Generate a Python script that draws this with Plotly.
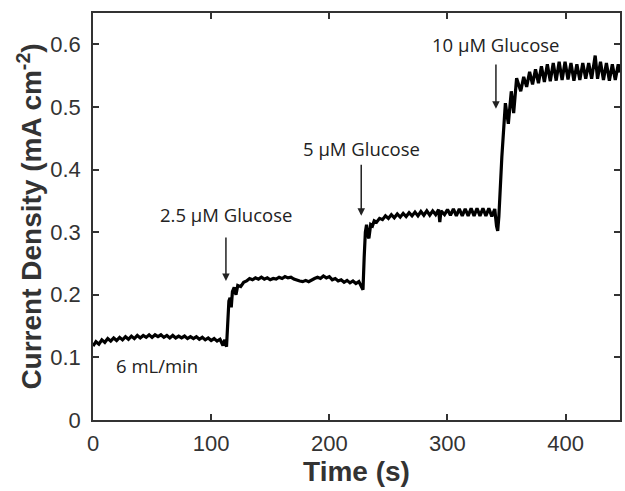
import plotly.graph_objects as go

# Time (s) and current density (mA cm^-2)
time_s = [
    0, 2.5, 5, 7.5, 10, 12.5, 15, 17.5, 20, 22.5, 25, 27.5, 30, 32.5, 35, 37.5,
    40, 42.5, 45, 47.5, 50, 52.5, 55, 57.5, 60, 62.5, 65, 67.5, 70, 72.5, 75, 77.5,
    80, 82.5, 85, 87.5, 90, 92.5, 95, 97.5, 100, 102.5, 105, 107.5, 110, 111.5, 113,
    114, 115, 116, 117, 118, 119.5, 121, 122.5, 125, 127.5, 130, 132.5, 135, 137.5,
    140, 142.5, 145, 147.5, 150, 152.5, 155, 157.5, 160, 162.5, 165, 167.5, 170,
    172.5, 175, 177.5, 180, 182.5, 185, 187.5, 190, 192.5, 195, 197.5, 200, 202.5,
    205, 207.5, 210, 212.5, 215, 217.5, 220, 222.5, 225, 227, 228.5,
    229.5, 230.5, 231.5, 232.5, 233.5, 235, 236.5, 238, 240, 242.5, 245, 247.5, 250,
    252.5, 255, 257.5, 260, 262.5, 265, 267.5, 270, 272.5, 275, 277.5, 280, 282.5,
    285, 287.5, 290, 292.5, 293.5, 294.5, 297.5, 300, 302.5, 305, 307.5, 310, 312.5,
    315, 317.5, 320, 322.5, 325, 327.5, 330, 332.5, 335, 337.5, 340, 341.5, 342.5,
    343.5, 346, 349, 351.5, 354, 356, 358.5, 362, 364.5, 367, 369.5, 372, 374.5, 377,
    379.5, 382, 384.5, 387, 389.5, 392, 394.5, 397, 399.5, 402, 404.5, 407, 409.5,
    412, 414.5, 417, 419.5, 422, 425, 427, 429.5, 432, 434.5, 437, 439.5, 442, 444.5, 446,
]
current = [
    0.118, 0.125, 0.121, 0.128, 0.124, 0.130, 0.126, 0.131, 0.127, 0.132, 0.128, 0.133,
    0.129, 0.134, 0.130, 0.135, 0.131, 0.135, 0.132, 0.136, 0.132, 0.136, 0.133, 0.136,
    0.132, 0.135, 0.131, 0.135, 0.131, 0.134, 0.131, 0.134, 0.130, 0.133, 0.130, 0.133,
    0.129, 0.132, 0.128, 0.131, 0.127, 0.130, 0.126, 0.129, 0.119, 0.128, 0.117,
    0.150, 0.190, 0.195, 0.180, 0.205, 0.212, 0.200, 0.215, 0.213, 0.220, 0.222, 0.226,
    0.224, 0.227, 0.225, 0.228, 0.225, 0.227, 0.224, 0.226, 0.225, 0.228, 0.226, 0.229,
    0.227, 0.228, 0.225, 0.223, 0.222, 0.221, 0.223, 0.221, 0.224, 0.226, 0.228, 0.226,
    0.230, 0.227, 0.229, 0.224, 0.226, 0.222, 0.224, 0.220, 0.223, 0.219, 0.222, 0.218,
    0.221, 0.212, 0.208,
    0.260, 0.300, 0.312, 0.295, 0.290, 0.312, 0.310, 0.318, 0.316, 0.322, 0.320, 0.326,
    0.322, 0.328, 0.323, 0.329, 0.324, 0.330, 0.325, 0.331, 0.326, 0.332, 0.326, 0.333,
    0.327, 0.334, 0.327, 0.334, 0.328, 0.336, 0.316, 0.334, 0.328, 0.336, 0.327, 0.337,
    0.326, 0.337, 0.326, 0.337, 0.326, 0.338, 0.326, 0.338, 0.326, 0.338, 0.326, 0.338,
    0.325, 0.337, 0.310, 0.302,
    0.325, 0.420, 0.506, 0.473, 0.525, 0.490, 0.546, 0.525, 0.548, 0.532, 0.556, 0.536,
    0.560, 0.538, 0.565, 0.540, 0.568, 0.541, 0.570, 0.542, 0.572, 0.543, 0.572, 0.544,
    0.570, 0.542, 0.568, 0.543, 0.570, 0.545, 0.570, 0.545, 0.582, 0.545, 0.572, 0.543,
    0.570, 0.542, 0.568, 0.543, 0.568, 0.555,
]

x_ticks = [0, 100, 200, 300, 400]
y_ticks = [0, 0.1, 0.2, 0.3, 0.4, 0.5, 0.6]

labels = ["2.5 μM Glucose", "5 μM Glucose", "10 μM Glucose"]
label_t = [112.5, 227, 341]
label_y = [0.329, 0.434, 0.599]
arrow_top = [0.294, 0.41, 0.57]
arrow_tip = [0.222, 0.326, 0.497]

fig = go.Figure()
fig.add_trace(go.Scatter(x=time_s, y=current, mode="lines",
                         line=dict(color="black", width=3.2), showlegend=False))

ann_font = dict(family="Open Sans", size=18.5, color="#222")
annotations = []
for lab, t, ly, at, tip in zip(labels, label_t, label_y, arrow_top, arrow_tip):
    annotations.append(dict(x=t, y=ly, text=lab, showarrow=False, font=ann_font,
                            xanchor="center", yanchor="middle"))
    annotations.append(dict(x=t, y=tip, ax=t, ay=at, axref="x", ayref="y",
                            xref="x", yref="y", text="", showarrow=True,
                            arrowhead=2, arrowsize=1, arrowwidth=1.5,
                            arrowcolor="#222"))
annotations.append(dict(x=54, y=0.087, text="6 mL/min", showarrow=False,
                        font=ann_font, xanchor="center", yanchor="middle"))

axis_common = dict(showline=True, linecolor="#333", linewidth=1.5, mirror="ticks",
                   ticks="inside", ticklen=6, tickwidth=1.5, tickcolor="#333",
                   showgrid=False, zeroline=False,
                   tickfont=dict(family="Liberation Sans, Arial", size=22, color="#333"))

fig.update_layout(
    width=625, height=491,
    margin=dict(l=93, r=3, t=13, b=71),
    paper_bgcolor="white", plot_bgcolor="white",
    xaxis=dict(range=[0, 446], tickvals=x_ticks, ticklabelstandoff=3,
               title=dict(text="<b>Time (s)</b>", standoff=0,
                          font=dict(family="Liberation Sans, Arial", size=28, color="#333")),
               **axis_common),
    yaxis=dict(range=[0, 0.65], tickvals=y_ticks, ticklabelstandoff=6,
               title=dict(text="<b>Current Density (mA cm<sup>-2</sup>)</b>", standoff=0,
                          font=dict(family="Liberation Sans, Arial", size=28, color="#333")),
               **axis_common),
    annotations=annotations,
)

fig.write_html("out.html")
